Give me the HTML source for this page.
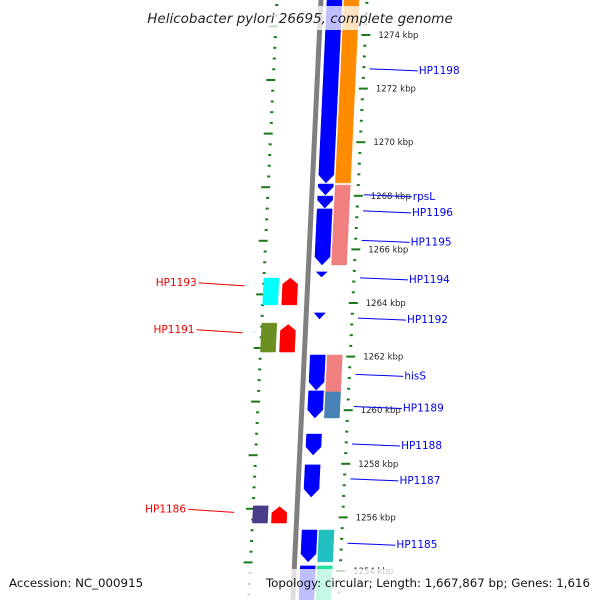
<!DOCTYPE html>
<html><head><meta charset="utf-8"><style>
html,body{margin:0;padding:0;background:#fff;}
svg{display:block;font-family:"DejaVu Sans","Liberation Sans",sans-serif;}
</style></head><body>
<svg id="c" width="600" height="600" viewBox="0 0 600 600">
</svg>
<script>
// scale: kbp -> y
const KTOP = 1274, YTOP = 35, PX = 26.8, SLOPE = 0.047;
// ruler ticks (kbp)
const rightTickStart = 1275.2, rightTickEnd = 1253.0, tickStep = 0.4;
const leftTickStart = 1276.8, leftTickEnd = 1251.6;
const tickLabels = [1274,1272,1270,1268,1266,1264,1262,1260,1258,1256,1254];
// features: [start kbp, end kbp, lane, colour, arrow]
const featStart = [1275.7,1268.44,1267.99,1267.51,1265.16,1263.63,1262.06,1260.72,1259.11,1257.96,1255.53,1254.19,
                   1275.7,1268.40,1267.96,1267.47,1262.06,1260.68,1255.53,1254.19,
                   1264.93,1264.93,1263.25,1263.20,1256.43,1256.40];
const featEnd   = [1268.48,1268.03,1267.54,1265.42,1264.97,1263.40,1260.75,1259.71,1258.33,1256.76,1254.34,1252.5,
                   1268.48,1267.96,1267.47,1265.42,1260.68,1259.71,1254.34,1252.5,
                   1263.93,1263.93,1262.17,1262.17,1255.79,1255.79];
const featLane  = [1,1,1,1,1,1,1,1,1,1,1,1, 2,2,2,2,2,2,2,2, -2,-1,-2,-1,-2,-1];
const featColor = ['#0000ff','#0000ff','#0000ff','#0000ff','#0000ff','#0000ff','#0000ff','#0000ff','#0000ff','#0000ff','#0000ff','#0000ff',
                   '#ff8c00','#f08080','#f08080','#f08080','#f08080','#4682b4','#20c0c0','#20e0a0',
                   '#00ffff','#ff0000','#6b8e23','#ff0000','#483d8b','#ff0000'];
const featArrow = ['down','down','down','down','down','down','down','down','down','down','down','down',
                   'none','none','none','none','none','none','none','none',
                   'none','up','none','up','none','up'];
// labels
const labelK    = [1272.7,1268.0,1267.4,1266.3,1264.9,1263.4,1261.3,1260.1,1258.7,1257.4,1255.0,1264.75,1263.0,1256.3];
const labelText = ['HP1198','rpsL','HP1196','HP1195','HP1194','HP1192','hisS','HP1189','HP1188','HP1187','HP1185','HP1193','HP1191','HP1186'];
const labelSide = ['r','r','r','r','r','r','r','r','r','r','r','l','l','l'];

const svg = document.getElementById('c');
const NS = 'http://www.w3.org/2000/svg';
function yOf(k){ return YTOP + (KTOP - k) * PX; }
function colX(base, y){ return base - SLOPE * y; }
function mk(tag, attrs, parent){ const e = document.createElementNS(NS, tag); for (const a in attrs) e.setAttribute(a, attrs[a]); (parent||svg).appendChild(e); return e; }

const gl = mk('line', {x1: colX(321,-5), y1:-5, x2: colX(321,605), y2:605, stroke:'#808080', 'stroke-width':5});



const gR = mk('g', {});


const gL = mk('g', {});


for (let k = rightTickStart; k >= rightTickEnd - 1e-6; k -= tickStep) {
  const kk = Math.round(k*10)/10;
  const y = yOf(kk);
  const major = Math.abs(kk/2 - Math.round(kk/2)) < 1e-6;
  const x = colX(367, y);
  const r = mk('rect', {x: major ? x-4 : x-1.5, y: y-1, width: major?9:3, height:2, fill:'#1a7a1a'}, gR);
  
  
}
for (let k = leftTickStart; k >= leftTickEnd - 1e-6; k -= tickStep) {
  const kk = Math.round(k*10)/10;
  const major = Math.abs(kk/2 - Math.round(kk/2)) < 1e-6;
  const yl = yOf(kk) + 45;
  if (yl < 0 || yl > 600) continue;
  const xl = colX(277, yl);
  const r2 = mk('rect', {x: major ? xl-7 : xl-1.5, y: yl-1, width: major?9:3, height:2, fill:'#1a7a1a'}, gL);
  
  
}
tickLabels.forEach(k => {
  const y = yOf(k);
  const t = mk('text', {x: colX(367,y)+13, y: y+3, 'font-size':8.5, fill:'#222'}, gR);
  t.textContent = k + ' kbp';
  
  
});

const laneBase = {1:327, 2:344, '-2':277, '-1':296};
const laneW = 15;
for (let i = 0; i < featStart.length; i++) {
  const y1 = yOf(featStart[i]), y2 = yOf(featEnd[i]);
  const b = laneBase[featLane[i]];
  const xa = y => colX(b, y), xb = y => colX(b, y) + laneW;
  const tip = 8;
  let pts;
  if (featArrow[i] === 'down') {
    const ym = y2 - Math.min(tip, y2 - y1);
    pts = [[xa(y1),y1],[xb(y1),y1],[xb(ym),ym],[(xa(y2)+xb(y2))/2,y2],[xa(ym),ym]];
    if (y2 - y1 < 9) pts = [[xa(y1)+2,y1],[xb(y1)-2,y1],[(xa(y2)+xb(y2))/2,y2]];
  } else if (featArrow[i] === 'up') {
    const ym = y1 + 6;
    pts = [[(xa(y1)+xb(y1))/2,y1],[xb(ym),ym],[xb(y2),y2],[xa(y2),y2],[xa(ym),ym]];
  } else {
    pts = [[xa(y1),y1],[xb(y1),y1],[xb(y2),y2],[xa(y2),y2]];
  }
  const p = mk('polygon', {points: pts.map(q=>q.join(',')).join(' '), fill: featColor[i], stroke: featColor[i], 'stroke-width':0.5});
  
  
}

for (let i = 0; i < labelK.length; i++) {
  const y = yOf(labelK[i]);
  const g = mk('g', {});
  
  
  if (labelSide[i] === 'r') {
    const x0 = colX(373, y), x1 = x0 + 48;
    mk('line', {x1:x0, y1:y-1, x2:x1, y2:y+1, stroke:'#0000ee', 'stroke-width':1}, g);
    const t = mk('text', {x:x1+1, y:y+4, 'font-size':10.5, fill:'#0000ee'}, g);
    t.textContent = labelText[i];
  } else {
    const x1 = colX(258, y), x0 = x1 - 46;
    mk('line', {x1:x0, y1:y, x2:x1, y2:y+3, stroke:'#ee0000', 'stroke-width':1}, g);
    const t = mk('text', {x:x0-2, y:y+3, 'font-size':10.5, fill:'#ee0000', 'text-anchor':'end'}, g);
    t.textContent = labelText[i];
  }
}

const tb = mk('rect', {x:140, y:6, width:320, height:24, fill:'rgba(255,255,255,0.75)'});


const title = mk('text', {x:300, y:23, 'font-size':13.5, 'font-style':'italic', 'text-anchor':'middle', fill:'#222'});
title.textContent = 'Helicobacter pylori 26695, complete genome';


const fb = mk('rect', {x:0, y:569, width:600, height:31, fill:'rgba(255,255,255,0.75)'});


const f1 = mk('text', {x:9, y:587, 'font-size':11.8, fill:'#111'});
f1.textContent = 'Accession: NC_000915';


const f2 = mk('text', {x:590, y:587, 'font-size':11.8, fill:'#111', 'text-anchor':'end'});
f2.textContent = 'Topology: circular; Length: 1,667,867 bp; Genes: 1,616';


</script>
</body></html>
